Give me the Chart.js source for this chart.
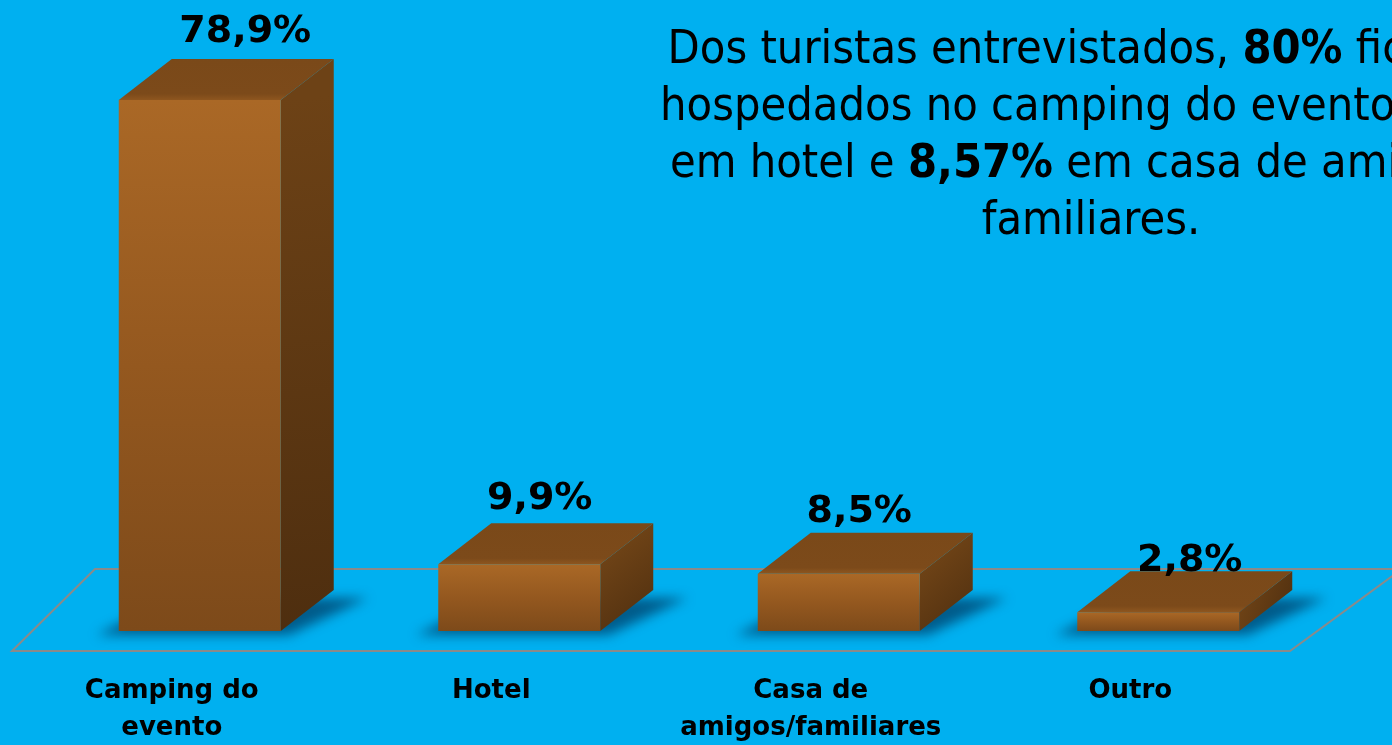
<!DOCTYPE html>
<html>
<head>
<meta charset="utf-8">
<script src="https://cdn.jsdelivr.net/npm/chart.js@4"></script>
<style>
  html, body { margin:0; padding:0; width:1392px; height:745px; overflow:hidden; background:#00B0F0; }
  #wrap { position:absolute; left:0; top:0; width:1392px; height:745px; }
  #note { position:absolute; left:591px; top:19px; width:1000px; text-align:center;
          font-family:"DejaVu Sans Condensed","DejaVu Sans",sans-serif; font-stretch:condensed;
          font-size:46.5px; line-height:57px; color:#000; white-space:nowrap; }
  #note b { font-weight:bold; }
</style>
</head>
<body>
<div id="wrap"><canvas id="c" width="1392" height="745"></canvas></div>
<div id="note">Dos turistas entrevistados, <b>80%</b> ficaram<br>hospedados no camping do evento, <b>10%</b><br>em hotel e <b>8,57%</b> em casa de amigos e<br>familiares.</div>
<script>
const categories = [["Camping do", "evento"], "Hotel", ["Casa de", "amigos/familiares"], "Outro"];
const values = [78.9, 9.9, 8.5, 2.8];
const valueLabels = ["78,9%", "9,9%", "8,5%", "2,8%"];

const FONT_WIDE = '"DejaVu Sans", sans-serif';
const DX = 53, DY = -41;

const box3d = {
  id: 'box3d',
  beforeDatasetsDraw(chart) {
    const ctx = chart.ctx;
    const a = chart.chartArea;
    // floor
    ctx.save();
    ctx.strokeStyle = '#8A8A8A';
    ctx.lineWidth = 2;
    ctx.beginPath();
    ctx.moveTo(a.left - 28, a.bottom + 20);
    ctx.lineTo(a.right - 28, a.bottom + 20);
    ctx.lineTo(a.right + 84, a.bottom - 62);
    ctx.lineTo(a.left + 55, a.bottom - 62);
    ctx.closePath();
    ctx.stroke();
    ctx.restore();

    const meta = chart.getDatasetMeta(0);
    meta.data.forEach((bar) => {
      const l = bar.x - bar.width / 2, r = bar.x + bar.width / 2;
      const t = bar.y, b = bar.base;
      // shadow
      ctx.save();
      ctx.fillStyle = 'rgba(0,55,95,0.7)';
      ctx.filter = 'blur(6px)';
      ctx.beginPath();
      ctx.moveTo(l - 22, b + 4);
      ctx.lineTo(r + 8, b + 4);
      ctx.lineTo(r + DX + 34, b + DY + 8);
      ctx.lineTo(l + DX, b + DY + 8);
      ctx.closePath();
      ctx.fill();
      ctx.restore();
      // side face
      ctx.save();
      let g = ctx.createLinearGradient(r, t, r + DX, b);
      g.addColorStop(0, '#6D4216');
      g.addColorStop(1, '#4E2E0F');
      ctx.fillStyle = g;
      ctx.beginPath();
      ctx.moveTo(r, t);
      ctx.lineTo(r + DX, t + DY);
      ctx.lineTo(r + DX, b + DY);
      ctx.lineTo(r, b);
      ctx.closePath();
      ctx.fill();
      // top face
      g = ctx.createLinearGradient(0, t + DY, 0, t);
      g.addColorStop(0, '#7A4919');
      g.addColorStop(0.85, '#7C4A1A');
      g.addColorStop(1, '#8E561F');
      ctx.fillStyle = g;
      ctx.beginPath();
      ctx.moveTo(l, t);
      ctx.lineTo(l + DX, t + DY);
      ctx.lineTo(r + DX, t + DY);
      ctx.lineTo(r, t);
      ctx.closePath();
      ctx.fill();
      ctx.restore();
    });
  },
  afterDatasetsDraw(chart) {
    const ctx = chart.ctx;
    const meta = chart.getDatasetMeta(0);
    ctx.save();
    ctx.fillStyle = '#000';
    ctx.font = 'bold 38px ' + FONT_WIDE;
    ctx.textAlign = 'center';
    ctx.textBaseline = 'alphabetic';
    const nudge = [[19, -3], [-6, 0], [-6, 3], [5, 14]];
    meta.data.forEach((bar, i) => {
      ctx.fillText(valueLabels[i], bar.x + DX / 2 + nudge[i][0], bar.y - 55 + nudge[i][1]);
    });
    ctx.restore();
  }
};

function frontGradient(c) {
  const chart = c.chart;
  const ys = chart.scales.y;
  if (!ys || !chart.chartArea) return '#94581F';
  const top = ys.getPixelForValue(values[c.dataIndex]);
  const base = ys.getPixelForValue(0);
  const g = chart.ctx.createLinearGradient(0, top, 0, base);
  g.addColorStop(0, '#AA6826');
  g.addColorStop(0.5, '#94581F');
  g.addColorStop(1, '#7D4A1A');
  return g;
}

new Chart(document.getElementById('c'), {
  type: 'bar',
  data: {
    labels: categories,
    datasets: [{
      data: values,
      backgroundColor: frontGradient,
      borderWidth: 0,
      barPercentage: 0.507,
      categoryPercentage: 1.0
    }]
  },
  plugins: [box3d],
  options: {
    responsive: false,
    animation: false,
    layout: { padding: { top: 92.6, left: 40, right: 74, bottom: 0 } },
    plugins: { legend: { display: false }, tooltip: { enabled: false } },
    scales: {
      y: { display: false, min: 0, max: 80 },
      x: {
        grid: { display: false, drawBorder: false },
        border: { display: false },
        ticks: {
          color: '#000',
          font: { family: FONT_WIDE, size: 26, weight: 'bold', lineHeight: 1.42 },
          padding: 34,
          labelOffset: -28,
          maxRotation: 0,
          autoSkip: false
        },
        afterFit(axis) { axis.height = 114; }
      }
    }
  }
});
</script>
</body>
</html>
